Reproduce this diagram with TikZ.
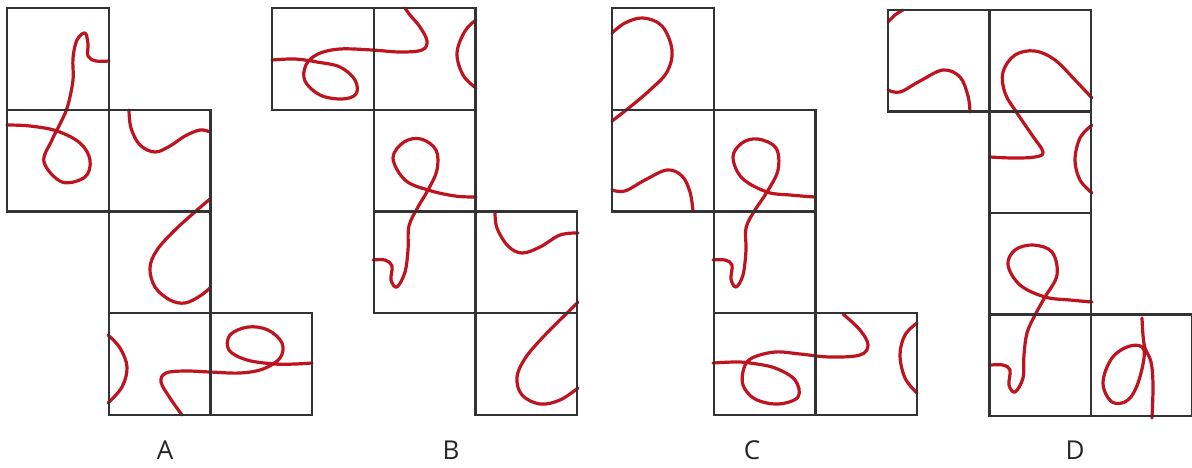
\documentclass[tikz,border=0pt]{standalone}
\usepackage{fontspec}
\setmainfont{Open Sans}
\definecolor{cord}{HTML}{BE1420}
\definecolor{edge}{HTML}{333333}
\tikzset{
  cellline/.style={draw=edge, line width=2.2pt},
  cordline/.style={draw=cord, line width=3.2pt, line cap=round, line join=round},
  netlabel/.style={font=\fontsize{26}{28}\selectfont, text=black!85}
}
\newcommand{\netcells}[4]{% x0, y0, size, list of col/row
  \foreach \c/\r in {#4} {\draw[cellline] ({#1+\c*#3},{#2+\r*#3}) rectangle ++(#3,#3);}
}
\begin{document}
\begin{tikzpicture}[x=1pt,y=-1pt]
\useasboundingbox (0,0) rectangle (1192,467);
\fill[white] (0,0) rectangle (1192,467);

% ---------- A ----------
\draw[cordline] plot[smooth,tension=0.6] coordinates {(109,61) (96,61) (88,56) (88,44) (85,33) (77,40) (73,58) (73,80) (68,105) (62,120) (52,140) (44,162) (62,182) (85,177) (90,160) (80,143) (57,131) (30,126) (7,125)};
\draw[cordline] plot[smooth,tension=0.6] coordinates {(129,110) (131,128) (140,145) (155,152) (170,146) (185,136) (200,130) (210,132)};
\draw[cordline] plot[smooth,tension=0.6] coordinates {(210,199) (196,211) (175,230) (157,250) (150,268) (155,287) (170,300) (185,303) (200,296) (210,288)};
\draw[cordline] plot[smooth,tension=0.6] coordinates {(108,335) (120,348) (127,367) (122,387) (108,403)};
\draw[cordline] plot[smooth,tension=0.6] coordinates {(182,415) (170,398) (161,382) (166,373) (185,371) (210,372) (240,373) (263,369) (280,358) (282,343) (268,330) (248,327) (230,335) (229,350) (247,360) (275,364) (295,364) (312,363)};
\netcells{7}{8}{101.7}{0/0,0/1,1/1,1/2,1/3,2/3}
\node[netlabel] (la) at (165,450) {A};

% ---------- B ----------
\draw[cordline] plot[smooth,tension=0.6] coordinates {(272,60) (295,59) (317,62) (340,67) (355,80) (356,94) (342,99) (320,95) (305,81) (306,65) (318,54) (340,49) (372,50) (400,52) (422,50) (427,41) (420,27) (410,15) (405,8)};
\draw[cordline] plot[smooth,tension=0.6] coordinates {(476,20) (465,31) (457,53) (463,75) (476,88)};
\draw[cordline] plot[smooth,tension=0.6] coordinates {(476,197) (455,196) (428,190) (405,180) (393,158) (404,142) (421,139) (436,150) (437,170) (428,190) (418,207) (409,226) (408,250) (405,272) (397,287) (391,280) (392,266) (385,260) (373,260)};
\draw[cordline] plot[smooth,tension=0.6] coordinates {(495,212) (497,228) (508,246) (522,253) (540,247) (560,235) (578,233)};
\draw[cordline] plot[smooth,tension=0.6] coordinates {(578,302) (565,315) (545,335) (526,357) (517,377) (522,395) (540,404) (560,400) (578,388)};
\netcells{272}{8}{101.7}{0/0,1/0,1/1,1/2,2/2,2/3}
\node[netlabel] (lb) at (451,450) {B};

% ---------- C ----------
\draw[cordline] plot[smooth,tension=0.6] coordinates {(612,33) (625,23) (643,18) (662,26) (672,50) (667,72) (650,90) (630,107) (612,121)};
\draw[cordline] plot[smooth,tension=0.6] coordinates {(612,190) (625,191) (645,180) (667,170) (682,176) (690,192) (693,211)};
\draw[cordline] plot[smooth,tension=0.6] coordinates {(815,197) (790,195) (767,192) (742,178) (733,157) (742,143) (758,139) (776,148) (778,170) (767,192) (755,210) (746,228) (746,250) (743,275) (736,287) (731,279) (732,265) (725,260) (713,260)};
\draw[cordline] plot[smooth,tension=0.6] coordinates {(713,363) (735,362) (750,363) (775,368) (795,380) (798,397) (778,404) (755,399) (743,385) (744,368) (752,358) (775,352) (800,354) (830,357) (860,355) (868,345) (860,330) (843,314)};
\draw[cordline] plot[smooth,tension=0.6] coordinates {(917,323) (905,335) (900,355) (905,378) (917,393)};
\netcells{612}{8}{101.7}{0/0,0/1,1/1,1/2,1/3,2/3}
\node[netlabel] (lc) at (752,450) {C};

% ---------- D ----------
\draw[cordline] plot[smooth,tension=0.6] coordinates {(888,22) (895,15) (903,10)};
\draw[cordline] plot[smooth,tension=0.6] coordinates {(888,90) (900,92) (920,81) (943,70) (960,77) (968,96) (970,112)};
\draw[cordline] plot[smooth,tension=0.6] coordinates {(1092,98) (1075,80) (1055,60) (1035,51) (1015,55) (1003,72) (1005,93) (1017,113) (1032,135) (1043,152) (1035,157) (1013,158) (990,157)};
\draw[cordline] plot[smooth,tension=0.6] coordinates {(1092,125) (1080,138) (1075,160) (1080,180) (1092,193)};
\draw[cordline] plot[smooth,tension=0.6] coordinates {(1092,302) (1070,300) (1045,297) (1020,285) (1008,265) (1015,250) (1033,245) (1052,252) (1057,275) (1045,297) (1035,315) (1027,333) (1024,355) (1023,378) (1015,392) (1009,385) (1010,370) (1003,365) (991,365)};
\draw[cordline] plot[smooth,tension=0.6] coordinates {(1142,318) (1143,335) (1145,348) (1151,362) (1153,385) (1152,418)};
\draw[cordline] plot[smooth cycle,tension=0.6] coordinates {(1144,350) (1130,346) (1112,358) (1103,383) (1112,402) (1128,400) (1139,380)};
\netcells{888}{10}{101.5}{0/0,1/0,1/1,1/2,1/3,2/3}
\node[netlabel] (ld) at (1075,450) {D};
\end{tikzpicture}
\end{document}
